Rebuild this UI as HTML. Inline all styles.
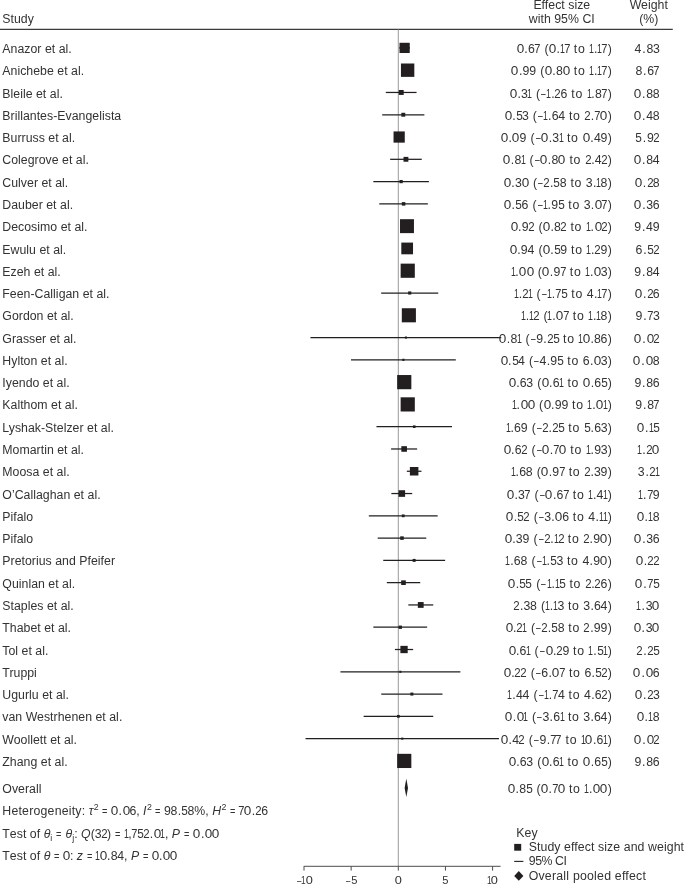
<!DOCTYPE html>
<html><head><meta charset="utf-8"><title>Forest plot</title>
<style>
html,body{margin:0;padding:0;background:#fff}
body{width:685px;height:884px;position:relative;overflow:hidden;will-change:transform;font-family:"Liberation Sans",Arial,sans-serif;color:#333}
.t{position:absolute;font-size:12.3px;line-height:16px;white-space:nowrap;letter-spacing:.03px;transform:scaleX(1.0);transform-origin:0 50%}
.n{left:2.3px}
.c{right:73.10px;text-align:right;letter-spacing:.72px;word-spacing:-.2px;font-kerning:none;transform-origin:100% 50%}
.w{right:25.5px;text-align:right;letter-spacing:.55px;font-kerning:none;transform-origin:100% 50%}
.a{width:40px;text-align:center;font-size:11.6px;letter-spacing:0;transform-origin:50% 50%;font-kerning:none}
.h{text-align:center;width:100px;transform-origin:50% 50%}
b{font-weight:normal;letter-spacing:0;display:inline-block}
.dm{transform:scaleX(.68);margin:0 -.2px}
.p{margin:0 .35px 0 .4px}
.w .p{margin:0 .9px 0 .9px}
.pl{margin:0 .2px 0 .3px}
.pr{margin:0 0 0 .5px}
.d0{margin:0 0.21px 0 0.21px;transform:scaleX(1.1)}
.d1{margin:0 -1.40px 0 -1.40px;transform:scaleX(0.72)}
.d2{margin:0 -0.55px 0 -0.55px;transform:scaleX(0.93)}
.d3{margin:0 -0.23px 0 -0.23px}
.d4{margin:0 -0.13px 0 -0.13px}
.d5{margin:0 -0.31px 0 -0.31px;transform:scaleX(0.96)}
.d6{margin:0 -0.15px 0 -0.15px}
.d7{margin:0 -0.64px 0 -0.64px;transform:scaleX(0.9)}
.d8{margin:0 -0.14px 0 -0.14px}
.d9{margin:0 -0.09px 0 -0.09px}
em{font-style:italic}
sup,sub{font-size:8.8px;line-height:0;letter-spacing:0}
sup{vertical-align:5.4px;margin-left:.4px}
sub{vertical-align:-3.2px}
.q{display:inline-block;transform:scaleX(.75);margin:0 -.5px}
.q2{margin:0 -.95px}
.q1{margin:0 -1px}
.k{font-kerning:none;letter-spacing:.04px}
svg{position:absolute;left:0;top:0}
</style></head><body>
<svg width="685" height="884" viewBox="0 0 685 884">
<line x1="0" y1="29.4" x2="672.8" y2="29.4" stroke="#3c3c3c" stroke-width="1.1"/>
<line x1="398.30" y1="29.5" x2="398.30" y2="866" stroke="#999" stroke-width="1"/>
<line x1="303.8" y1="866.3" x2="500.6" y2="866.3" stroke="#4d4d4d" stroke-width="1"/>
<line x1="304.00" y1="866.3" x2="304.00" y2="870.6" stroke="#4d4d4d" stroke-width="1"/>
<line x1="351.15" y1="866.3" x2="351.15" y2="870.6" stroke="#4d4d4d" stroke-width="1"/>
<line x1="398.30" y1="866.3" x2="398.30" y2="870.6" stroke="#4d4d4d" stroke-width="1"/>
<line x1="445.45" y1="866.3" x2="445.45" y2="870.6" stroke="#4d4d4d" stroke-width="1"/>
<line x1="492.60" y1="866.3" x2="492.60" y2="870.6" stroke="#4d4d4d" stroke-width="1"/>
<line x1="399.90" y1="47.90" x2="409.33" y2="47.90" stroke="#231f20" stroke-width="1.25" stroke-linecap="square"/>
<rect x="399.50" y="42.78" width="10.23" height="10.23" fill="#231f20"/>
<line x1="405.84" y1="70.18" x2="409.33" y2="70.18" stroke="#231f20" stroke-width="1.25" stroke-linecap="square"/>
<rect x="400.95" y="63.50" width="13.37" height="13.37" fill="#231f20"/>
<line x1="386.42" y1="92.46" x2="415.93" y2="92.46" stroke="#231f20" stroke-width="1.25" stroke-linecap="square"/>
<rect x="398.75" y="89.99" width="4.94" height="4.94" fill="#231f20"/>
<line x1="382.83" y1="114.75" x2="423.76" y2="114.75" stroke="#231f20" stroke-width="1.25" stroke-linecap="square"/>
<rect x="401.34" y="112.79" width="3.91" height="3.91" fill="#231f20"/>
<line x1="395.38" y1="137.03" x2="402.92" y2="137.03" stroke="#231f20" stroke-width="1.25" stroke-linecap="square"/>
<rect x="393.54" y="131.42" width="11.22" height="11.22" fill="#231f20"/>
<line x1="390.76" y1="159.31" x2="421.12" y2="159.31" stroke="#231f20" stroke-width="1.25" stroke-linecap="square"/>
<rect x="403.51" y="156.89" width="4.85" height="4.85" fill="#231f20"/>
<line x1="373.97" y1="181.59" x2="428.29" y2="181.59" stroke="#231f20" stroke-width="1.25" stroke-linecap="square"/>
<rect x="399.52" y="179.98" width="3.22" height="3.22" fill="#231f20"/>
<line x1="379.91" y1="203.87" x2="427.25" y2="203.87" stroke="#231f20" stroke-width="1.25" stroke-linecap="square"/>
<rect x="401.82" y="202.11" width="3.52" height="3.52" fill="#231f20"/>
<line x1="406.03" y1="226.16" x2="407.92" y2="226.16" stroke="#231f20" stroke-width="1.25" stroke-linecap="square"/>
<rect x="400.01" y="219.19" width="13.94" height="13.94" fill="#231f20"/>
<line x1="403.86" y1="248.44" x2="410.46" y2="248.44" stroke="#231f20" stroke-width="1.25" stroke-linecap="square"/>
<rect x="401.30" y="242.58" width="11.72" height="11.72" fill="#231f20"/>
<line x1="407.45" y1="270.72" x2="408.01" y2="270.72" stroke="#231f20" stroke-width="1.25" stroke-linecap="square"/>
<rect x="400.64" y="263.63" width="14.17" height="14.17" fill="#231f20"/>
<line x1="381.80" y1="293.00" x2="437.62" y2="293.00" stroke="#231f20" stroke-width="1.25" stroke-linecap="square"/>
<rect x="408.14" y="291.43" width="3.14" height="3.14" fill="#231f20"/>
<line x1="408.39" y1="315.28" x2="409.43" y2="315.28" stroke="#231f20" stroke-width="1.25" stroke-linecap="square"/>
<rect x="401.81" y="308.23" width="14.10" height="14.10" fill="#231f20"/>
<line x1="311.07" y1="337.57" x2="500.60" y2="337.57" stroke="#231f20" stroke-width="1.25" stroke-linecap="square"/>
<rect x="404.89" y="336.52" width="2.10" height="2.10" fill="#231f20"/>
<line x1="351.62" y1="359.85" x2="455.16" y2="359.85" stroke="#231f20" stroke-width="1.25" stroke-linecap="square"/>
<rect x="402.30" y="358.75" width="2.19" height="2.19" fill="#231f20"/>
<line x1="404.05" y1="382.13" x2="404.43" y2="382.13" stroke="#231f20" stroke-width="1.25" stroke-linecap="square"/>
<rect x="397.15" y="375.04" width="14.19" height="14.19" fill="#231f20"/>
<line x1="407.64" y1="404.41" x2="407.82" y2="404.41" stroke="#231f20" stroke-width="1.25" stroke-linecap="square"/>
<rect x="400.63" y="397.31" width="14.19" height="14.19" fill="#231f20"/>
<line x1="377.08" y1="426.69" x2="451.39" y2="426.69" stroke="#231f20" stroke-width="1.25" stroke-linecap="square"/>
<rect x="412.92" y="425.38" width="2.63" height="2.63" fill="#231f20"/>
<line x1="391.70" y1="448.98" x2="416.50" y2="448.98" stroke="#231f20" stroke-width="1.25" stroke-linecap="square"/>
<rect x="401.35" y="446.18" width="5.60" height="5.60" fill="#231f20"/>
<line x1="407.45" y1="471.26" x2="420.84" y2="471.26" stroke="#231f20" stroke-width="1.25" stroke-linecap="square"/>
<rect x="409.88" y="467.00" width="8.52" height="8.52" fill="#231f20"/>
<line x1="391.98" y1="493.54" x2="411.60" y2="493.54" stroke="#231f20" stroke-width="1.25" stroke-linecap="square"/>
<rect x="398.48" y="490.23" width="6.62" height="6.62" fill="#231f20"/>
<line x1="369.44" y1="515.82" x2="437.06" y2="515.82" stroke="#231f20" stroke-width="1.25" stroke-linecap="square"/>
<rect x="401.81" y="514.43" width="2.78" height="2.78" fill="#231f20"/>
<line x1="378.31" y1="538.10" x2="425.65" y2="538.10" stroke="#231f20" stroke-width="1.25" stroke-linecap="square"/>
<rect x="400.22" y="536.34" width="3.52" height="3.52" fill="#231f20"/>
<line x1="383.87" y1="560.39" x2="444.51" y2="560.39" stroke="#231f20" stroke-width="1.25" stroke-linecap="square"/>
<rect x="412.66" y="558.90" width="2.97" height="2.97" fill="#231f20"/>
<line x1="387.46" y1="582.67" x2="419.61" y2="582.67" stroke="#231f20" stroke-width="1.25" stroke-linecap="square"/>
<rect x="401.17" y="580.35" width="4.64" height="4.64" fill="#231f20"/>
<line x1="408.96" y1="604.95" x2="432.63" y2="604.95" stroke="#231f20" stroke-width="1.25" stroke-linecap="square"/>
<rect x="417.85" y="602.06" width="5.79" height="5.79" fill="#231f20"/>
<line x1="373.97" y1="627.23" x2="426.50" y2="627.23" stroke="#231f20" stroke-width="1.25" stroke-linecap="square"/>
<rect x="398.63" y="625.58" width="3.30" height="3.30" fill="#231f20"/>
<line x1="395.57" y1="649.51" x2="412.54" y2="649.51" stroke="#231f20" stroke-width="1.25" stroke-linecap="square"/>
<rect x="400.40" y="645.86" width="7.30" height="7.30" fill="#231f20"/>
<line x1="341.06" y1="671.80" x2="459.78" y2="671.80" stroke="#231f20" stroke-width="1.25" stroke-linecap="square"/>
<rect x="399.32" y="670.75" width="2.10" height="2.10" fill="#231f20"/>
<line x1="381.89" y1="694.08" x2="441.87" y2="694.08" stroke="#231f20" stroke-width="1.25" stroke-linecap="square"/>
<rect x="410.37" y="692.57" width="3.01" height="3.01" fill="#231f20"/>
<line x1="364.26" y1="716.36" x2="432.63" y2="716.36" stroke="#231f20" stroke-width="1.25" stroke-linecap="square"/>
<rect x="397.00" y="714.97" width="2.78" height="2.78" fill="#231f20"/>
<line x1="306.17" y1="738.64" x2="498.35" y2="738.64" stroke="#231f20" stroke-width="1.25" stroke-linecap="square"/>
<rect x="401.21" y="737.59" width="2.10" height="2.10" fill="#231f20"/>
<line x1="404.05" y1="760.92" x2="404.43" y2="760.92" stroke="#231f20" stroke-width="1.25" stroke-linecap="square"/>
<rect x="397.15" y="753.83" width="14.19" height="14.19" fill="#231f20"/>
<polygon points="404.60,787.9 406.32,778.8 408.03,787.9 406.32,797.0" fill="#231f20"/>
<rect x="514.2" y="843.9" width="7" height="6.8" fill="#231f20"/>
<line x1="514.2" y1="861.4" x2="523.4" y2="861.4" stroke="#231f20" stroke-width="1.1"/>
<polygon points="514.2,875.9 518.8,871 523.4,875.9 518.8,880.8" fill="#231f20"/>
</svg>
<div class="t n" style="top:10.94px">Study</div>
<div class="t h" style="left:511.8px;top:-3.06px">Effect size</div>
<div class="t h" style="left:511.8px;top:10.94px">with 95% CI</div>
<div class="t h" style="left:598.8px;top:-3.06px">Weight</div>
<div class="t h" style="left:598.8px;top:10.94px">(%)</div>
<div class="t n" style="top:40.94px">Anazor et al.</div>
<div class="t c" style="top:40.94px"><b class="d0">0</b><b class="p">.</b><b class="d6">6</b><b class="d7">7</b> <b class="pl">(</b><b class="d0">0</b><b class="p">.</b><b class="d1">1</b><b class="d7">7</b> to <b class="d1">1</b><b class="p">.</b><b class="d1">1</b><b class="d7">7</b><b class="pr">)</b></div>
<div class="t w" style="top:40.94px"><b class="d4">4</b><b class="p">.</b><b class="d8">8</b><b class="d3">3</b></div>
<div class="t n" style="top:62.94px">Anichebe et al.</div>
<div class="t c" style="top:62.94px"><b class="d0">0</b><b class="p">.</b><b class="d9">9</b><b class="d9">9</b> <b class="pl">(</b><b class="d0">0</b><b class="p">.</b><b class="d8">8</b><b class="d0">0</b> to <b class="d1">1</b><b class="p">.</b><b class="d1">1</b><b class="d7">7</b><b class="pr">)</b></div>
<div class="t w" style="top:62.94px"><b class="d8">8</b><b class="p">.</b><b class="d6">6</b><b class="d7">7</b></div>
<div class="t n" style="top:85.94px">Bleile et al.</div>
<div class="t c" style="top:85.94px"><b class="d0">0</b><b class="p">.</b><b class="d3">3</b><b class="d1">1</b> <b class="pl">(</b><b class="dm">–</b><b class="d1">1</b><b class="p">.</b><b class="d2">2</b><b class="d6">6</b> to <b class="d1">1</b><b class="p">.</b><b class="d8">8</b><b class="d7">7</b><b class="pr">)</b></div>
<div class="t w" style="top:85.94px"><b class="d0">0</b><b class="p">.</b><b class="d8">8</b><b class="d8">8</b></div>
<div class="t n" style="top:107.94px">Brillantes-Evangelista</div>
<div class="t c" style="top:107.94px"><b class="d0">0</b><b class="p">.</b><b class="d5">5</b><b class="d3">3</b> <b class="pl">(</b><b class="dm">–</b><b class="d1">1</b><b class="p">.</b><b class="d6">6</b><b class="d4">4</b> to <b class="d2">2</b><b class="p">.</b><b class="d7">7</b><b class="d0">0</b><b class="pr">)</b></div>
<div class="t w" style="top:107.94px"><b class="d0">0</b><b class="p">.</b><b class="d4">4</b><b class="d8">8</b></div>
<div class="t n" style="top:129.94px">Burruss et al.</div>
<div class="t c" style="top:129.94px"><b class="d0">0</b><b class="p">.</b><b class="d0">0</b><b class="d9">9</b> <b class="pl">(</b><b class="dm">–</b><b class="d0">0</b><b class="p">.</b><b class="d3">3</b><b class="d1">1</b> to <b class="d0">0</b><b class="p">.</b><b class="d4">4</b><b class="d9">9</b><b class="pr">)</b></div>
<div class="t w" style="top:129.94px"><b class="d5">5</b><b class="p">.</b><b class="d9">9</b><b class="d2">2</b></div>
<div class="t n" style="top:151.94px">Colegrove et al.</div>
<div class="t c" style="top:151.94px"><b class="d0">0</b><b class="p">.</b><b class="d8">8</b><b class="d1">1</b> <b class="pl">(</b><b class="dm">–</b><b class="d0">0</b><b class="p">.</b><b class="d8">8</b><b class="d0">0</b> to <b class="d2">2</b><b class="p">.</b><b class="d4">4</b><b class="d2">2</b><b class="pr">)</b></div>
<div class="t w" style="top:151.94px"><b class="d0">0</b><b class="p">.</b><b class="d8">8</b><b class="d4">4</b></div>
<div class="t n" style="top:174.94px">Culver et al.</div>
<div class="t c" style="top:174.94px"><b class="d0">0</b><b class="p">.</b><b class="d3">3</b><b class="d0">0</b> <b class="pl">(</b><b class="dm">–</b><b class="d2">2</b><b class="p">.</b><b class="d5">5</b><b class="d8">8</b> to <b class="d3">3</b><b class="p">.</b><b class="d1">1</b><b class="d8">8</b><b class="pr">)</b></div>
<div class="t w" style="top:174.94px"><b class="d0">0</b><b class="p">.</b><b class="d2">2</b><b class="d8">8</b></div>
<div class="t n" style="top:196.94px">Dauber et al.</div>
<div class="t c" style="top:196.94px"><b class="d0">0</b><b class="p">.</b><b class="d5">5</b><b class="d6">6</b> <b class="pl">(</b><b class="dm">–</b><b class="d1">1</b><b class="p">.</b><b class="d9">9</b><b class="d5">5</b> to <b class="d3">3</b><b class="p">.</b><b class="d0">0</b><b class="d7">7</b><b class="pr">)</b></div>
<div class="t w" style="top:196.94px"><b class="d0">0</b><b class="p">.</b><b class="d3">3</b><b class="d6">6</b></div>
<div class="t n" style="top:218.94px">Decosimo et al.</div>
<div class="t c" style="top:218.94px"><b class="d0">0</b><b class="p">.</b><b class="d9">9</b><b class="d2">2</b> <b class="pl">(</b><b class="d0">0</b><b class="p">.</b><b class="d8">8</b><b class="d2">2</b> to <b class="d1">1</b><b class="p">.</b><b class="d0">0</b><b class="d2">2</b><b class="pr">)</b></div>
<div class="t w" style="top:218.94px"><b class="d9">9</b><b class="p">.</b><b class="d4">4</b><b class="d9">9</b></div>
<div class="t n" style="top:241.94px">Ewulu et al.</div>
<div class="t c" style="top:241.94px"><b class="d0">0</b><b class="p">.</b><b class="d9">9</b><b class="d4">4</b> <b class="pl">(</b><b class="d0">0</b><b class="p">.</b><b class="d5">5</b><b class="d9">9</b> to <b class="d1">1</b><b class="p">.</b><b class="d2">2</b><b class="d9">9</b><b class="pr">)</b></div>
<div class="t w" style="top:241.94px"><b class="d6">6</b><b class="p">.</b><b class="d5">5</b><b class="d2">2</b></div>
<div class="t n" style="top:263.94px">Ezeh et al.</div>
<div class="t c" style="top:263.94px"><b class="d1">1</b><b class="p">.</b><b class="d0">0</b><b class="d0">0</b> <b class="pl">(</b><b class="d0">0</b><b class="p">.</b><b class="d9">9</b><b class="d7">7</b> to <b class="d1">1</b><b class="p">.</b><b class="d0">0</b><b class="d3">3</b><b class="pr">)</b></div>
<div class="t w" style="top:263.94px"><b class="d9">9</b><b class="p">.</b><b class="d8">8</b><b class="d4">4</b></div>
<div class="t n" style="top:285.94px">Feen-Calligan et al.</div>
<div class="t c" style="top:285.94px"><b class="d1">1</b><b class="p">.</b><b class="d2">2</b><b class="d1">1</b> <b class="pl">(</b><b class="dm">–</b><b class="d1">1</b><b class="p">.</b><b class="d7">7</b><b class="d5">5</b> to <b class="d4">4</b><b class="p">.</b><b class="d1">1</b><b class="d7">7</b><b class="pr">)</b></div>
<div class="t w" style="top:285.94px"><b class="d0">0</b><b class="p">.</b><b class="d2">2</b><b class="d6">6</b></div>
<div class="t n" style="top:307.94px">Gordon et al.</div>
<div class="t c" style="top:307.94px"><b class="d1">1</b><b class="p">.</b><b class="d1">1</b><b class="d2">2</b> <b class="pl">(</b><b class="d1">1</b><b class="p">.</b><b class="d0">0</b><b class="d7">7</b> to <b class="d1">1</b><b class="p">.</b><b class="d1">1</b><b class="d8">8</b><b class="pr">)</b></div>
<div class="t w" style="top:307.94px"><b class="d9">9</b><b class="p">.</b><b class="d7">7</b><b class="d3">3</b></div>
<div class="t n" style="top:330.94px">Grasser et al.</div>
<div class="t c" style="top:330.94px"><b class="d0">0</b><b class="p">.</b><b class="d8">8</b><b class="d1">1</b> <b class="pl">(</b><b class="dm">–</b><b class="d9">9</b><b class="p">.</b><b class="d2">2</b><b class="d5">5</b> to <b class="d1">1</b><b class="d0">0</b><b class="p">.</b><b class="d8">8</b><b class="d6">6</b><b class="pr">)</b></div>
<div class="t w" style="top:330.94px"><b class="d0">0</b><b class="p">.</b><b class="d0">0</b><b class="d2">2</b></div>
<div class="t n" style="top:352.94px">Hylton et al.</div>
<div class="t c" style="top:352.94px"><b class="d0">0</b><b class="p">.</b><b class="d5">5</b><b class="d4">4</b> <b class="pl">(</b><b class="dm">–</b><b class="d4">4</b><b class="p">.</b><b class="d9">9</b><b class="d5">5</b> to <b class="d6">6</b><b class="p">.</b><b class="d0">0</b><b class="d3">3</b><b class="pr">)</b></div>
<div class="t w" style="top:352.94px"><b class="d0">0</b><b class="p">.</b><b class="d0">0</b><b class="d8">8</b></div>
<div class="t n" style="top:374.94px">Iyendo et al.</div>
<div class="t c" style="top:374.94px"><b class="d0">0</b><b class="p">.</b><b class="d6">6</b><b class="d3">3</b> <b class="pl">(</b><b class="d0">0</b><b class="p">.</b><b class="d6">6</b><b class="d1">1</b> to <b class="d0">0</b><b class="p">.</b><b class="d6">6</b><b class="d5">5</b><b class="pr">)</b></div>
<div class="t w" style="top:374.94px"><b class="d9">9</b><b class="p">.</b><b class="d8">8</b><b class="d6">6</b></div>
<div class="t n" style="top:396.94px">Kalthom et al.</div>
<div class="t c" style="top:396.94px"><b class="d1">1</b><b class="p">.</b><b class="d0">0</b><b class="d0">0</b> <b class="pl">(</b><b class="d0">0</b><b class="p">.</b><b class="d9">9</b><b class="d9">9</b> to <b class="d1">1</b><b class="p">.</b><b class="d0">0</b><b class="d1">1</b><b class="pr">)</b></div>
<div class="t w" style="top:396.94px"><b class="d9">9</b><b class="p">.</b><b class="d8">8</b><b class="d7">7</b></div>
<div class="t n" style="top:419.94px">Lyshak-Stelzer et al.</div>
<div class="t c" style="top:419.94px"><b class="d1">1</b><b class="p">.</b><b class="d6">6</b><b class="d9">9</b> <b class="pl">(</b><b class="dm">–</b><b class="d2">2</b><b class="p">.</b><b class="d2">2</b><b class="d5">5</b> to <b class="d5">5</b><b class="p">.</b><b class="d6">6</b><b class="d3">3</b><b class="pr">)</b></div>
<div class="t w" style="top:419.94px"><b class="d0">0</b><b class="p">.</b><b class="d1">1</b><b class="d5">5</b></div>
<div class="t n" style="top:441.94px">Momartin et al.</div>
<div class="t c" style="top:441.94px"><b class="d0">0</b><b class="p">.</b><b class="d6">6</b><b class="d2">2</b> <b class="pl">(</b><b class="dm">–</b><b class="d0">0</b><b class="p">.</b><b class="d7">7</b><b class="d0">0</b> to <b class="d1">1</b><b class="p">.</b><b class="d9">9</b><b class="d3">3</b><b class="pr">)</b></div>
<div class="t w" style="top:441.94px"><b class="d1">1</b><b class="p">.</b><b class="d2">2</b><b class="d0">0</b></div>
<div class="t n" style="top:463.94px">Moosa et al.</div>
<div class="t c" style="top:463.94px"><b class="d1">1</b><b class="p">.</b><b class="d6">6</b><b class="d8">8</b> <b class="pl">(</b><b class="d0">0</b><b class="p">.</b><b class="d9">9</b><b class="d7">7</b> to <b class="d2">2</b><b class="p">.</b><b class="d3">3</b><b class="d9">9</b><b class="pr">)</b></div>
<div class="t w" style="top:463.94px"><b class="d3">3</b><b class="p">.</b><b class="d2">2</b><b class="d1">1</b></div>
<div class="t n" style="top:486.94px">O’Callaghan et al.</div>
<div class="t c" style="top:486.94px"><b class="d0">0</b><b class="p">.</b><b class="d3">3</b><b class="d7">7</b> <b class="pl">(</b><b class="dm">–</b><b class="d0">0</b><b class="p">.</b><b class="d6">6</b><b class="d7">7</b> to <b class="d1">1</b><b class="p">.</b><b class="d4">4</b><b class="d1">1</b><b class="pr">)</b></div>
<div class="t w" style="top:486.94px"><b class="d1">1</b><b class="p">.</b><b class="d7">7</b><b class="d9">9</b></div>
<div class="t n" style="top:508.94px">Pifalo</div>
<div class="t c" style="top:508.94px"><b class="d0">0</b><b class="p">.</b><b class="d5">5</b><b class="d2">2</b> <b class="pl">(</b><b class="dm">–</b><b class="d3">3</b><b class="p">.</b><b class="d0">0</b><b class="d6">6</b> to <b class="d4">4</b><b class="p">.</b><b class="d1">1</b><b class="d1">1</b><b class="pr">)</b></div>
<div class="t w" style="top:508.94px"><b class="d0">0</b><b class="p">.</b><b class="d1">1</b><b class="d8">8</b></div>
<div class="t n" style="top:530.94px">Pifalo</div>
<div class="t c" style="top:530.94px"><b class="d0">0</b><b class="p">.</b><b class="d3">3</b><b class="d9">9</b> <b class="pl">(</b><b class="dm">–</b><b class="d2">2</b><b class="p">.</b><b class="d1">1</b><b class="d2">2</b> to <b class="d2">2</b><b class="p">.</b><b class="d9">9</b><b class="d0">0</b><b class="pr">)</b></div>
<div class="t w" style="top:530.94px"><b class="d0">0</b><b class="p">.</b><b class="d3">3</b><b class="d6">6</b></div>
<div class="t n" style="top:552.94px">Pretorius and Pfeifer</div>
<div class="t c" style="top:552.94px"><b class="d1">1</b><b class="p">.</b><b class="d6">6</b><b class="d8">8</b> <b class="pl">(</b><b class="dm">–</b><b class="d1">1</b><b class="p">.</b><b class="d5">5</b><b class="d3">3</b> to <b class="d4">4</b><b class="p">.</b><b class="d9">9</b><b class="d0">0</b><b class="pr">)</b></div>
<div class="t w" style="top:552.94px"><b class="d0">0</b><b class="p">.</b><b class="d2">2</b><b class="d2">2</b></div>
<div class="t n" style="top:575.94px">Quinlan et al.</div>
<div class="t c" style="top:575.94px"><b class="d0">0</b><b class="p">.</b><b class="d5">5</b><b class="d5">5</b> <b class="pl">(</b><b class="dm">–</b><b class="d1">1</b><b class="p">.</b><b class="d1">1</b><b class="d5">5</b> to <b class="d2">2</b><b class="p">.</b><b class="d2">2</b><b class="d6">6</b><b class="pr">)</b></div>
<div class="t w" style="top:575.94px"><b class="d0">0</b><b class="p">.</b><b class="d7">7</b><b class="d5">5</b></div>
<div class="t n" style="top:597.94px">Staples et al.</div>
<div class="t c" style="top:597.94px"><b class="d2">2</b><b class="p">.</b><b class="d3">3</b><b class="d8">8</b> <b class="pl">(</b><b class="d1">1</b><b class="p">.</b><b class="d1">1</b><b class="d3">3</b> to <b class="d3">3</b><b class="p">.</b><b class="d6">6</b><b class="d4">4</b><b class="pr">)</b></div>
<div class="t w" style="top:597.94px"><b class="d1">1</b><b class="p">.</b><b class="d3">3</b><b class="d0">0</b></div>
<div class="t n" style="top:619.94px">Thabet et al.</div>
<div class="t c" style="top:619.94px"><b class="d0">0</b><b class="p">.</b><b class="d2">2</b><b class="d1">1</b> <b class="pl">(</b><b class="dm">–</b><b class="d2">2</b><b class="p">.</b><b class="d5">5</b><b class="d8">8</b> to <b class="d2">2</b><b class="p">.</b><b class="d9">9</b><b class="d9">9</b><b class="pr">)</b></div>
<div class="t w" style="top:619.94px"><b class="d0">0</b><b class="p">.</b><b class="d3">3</b><b class="d0">0</b></div>
<div class="t n" style="top:642.94px">Tol et al.</div>
<div class="t c" style="top:642.94px"><b class="d0">0</b><b class="p">.</b><b class="d6">6</b><b class="d1">1</b> <b class="pl">(</b><b class="dm">–</b><b class="d0">0</b><b class="p">.</b><b class="d2">2</b><b class="d9">9</b> to <b class="d1">1</b><b class="p">.</b><b class="d5">5</b><b class="d1">1</b><b class="pr">)</b></div>
<div class="t w" style="top:642.94px"><b class="d2">2</b><b class="p">.</b><b class="d2">2</b><b class="d5">5</b></div>
<div class="t n" style="top:664.94px">Truppi</div>
<div class="t c" style="top:664.94px"><b class="d0">0</b><b class="p">.</b><b class="d2">2</b><b class="d2">2</b> <b class="pl">(</b><b class="dm">–</b><b class="d6">6</b><b class="p">.</b><b class="d0">0</b><b class="d7">7</b> to <b class="d6">6</b><b class="p">.</b><b class="d5">5</b><b class="d2">2</b><b class="pr">)</b></div>
<div class="t w" style="top:664.94px"><b class="d0">0</b><b class="p">.</b><b class="d0">0</b><b class="d6">6</b></div>
<div class="t n" style="top:686.94px">Ugurlu et al.</div>
<div class="t c" style="top:686.94px"><b class="d1">1</b><b class="p">.</b><b class="d4">4</b><b class="d4">4</b> <b class="pl">(</b><b class="dm">–</b><b class="d1">1</b><b class="p">.</b><b class="d7">7</b><b class="d4">4</b> to <b class="d4">4</b><b class="p">.</b><b class="d6">6</b><b class="d2">2</b><b class="pr">)</b></div>
<div class="t w" style="top:686.94px"><b class="d0">0</b><b class="p">.</b><b class="d2">2</b><b class="d3">3</b></div>
<div class="t n" style="top:708.94px">van Westrhenen et al.</div>
<div class="t c" style="top:708.94px"><b class="d0">0</b><b class="p">.</b><b class="d0">0</b><b class="d1">1</b> <b class="pl">(</b><b class="dm">–</b><b class="d3">3</b><b class="p">.</b><b class="d6">6</b><b class="d1">1</b> to <b class="d3">3</b><b class="p">.</b><b class="d6">6</b><b class="d4">4</b><b class="pr">)</b></div>
<div class="t w" style="top:708.94px"><b class="d0">0</b><b class="p">.</b><b class="d1">1</b><b class="d8">8</b></div>
<div class="t n" style="top:731.94px">Woollett et al.</div>
<div class="t c" style="top:731.94px"><b class="d0">0</b><b class="p">.</b><b class="d4">4</b><b class="d2">2</b> <b class="pl">(</b><b class="dm">–</b><b class="d9">9</b><b class="p">.</b><b class="d7">7</b><b class="d7">7</b> to <b class="d1">1</b><b class="d0">0</b><b class="p">.</b><b class="d6">6</b><b class="d1">1</b><b class="pr">)</b></div>
<div class="t w" style="top:731.94px"><b class="d0">0</b><b class="p">.</b><b class="d0">0</b><b class="d2">2</b></div>
<div class="t n" style="top:753.94px">Zhang et al.</div>
<div class="t c" style="top:753.94px"><b class="d0">0</b><b class="p">.</b><b class="d6">6</b><b class="d3">3</b> <b class="pl">(</b><b class="d0">0</b><b class="p">.</b><b class="d6">6</b><b class="d1">1</b> to <b class="d0">0</b><b class="p">.</b><b class="d6">6</b><b class="d5">5</b><b class="pr">)</b></div>
<div class="t w" style="top:753.94px"><b class="d9">9</b><b class="p">.</b><b class="d8">8</b><b class="d6">6</b></div>
<div class="t a" style="left:284.00px;top:872.18px"><b class="dm">–</b><b class="d1">1</b><b class="d0">0</b></div>
<div class="t a" style="left:331.15px;top:872.18px"><b class="dm">–</b><b class="d5">5</b></div>
<div class="t a" style="left:378.30px;top:872.18px"><b class="d0">0</b></div>
<div class="t a" style="left:425.45px;top:872.18px"><b class="d5">5</b></div>
<div class="t a" style="left:472.60px;top:872.18px"><b class="d1">1</b><b class="d0">0</b></div>
<div class="t n" style="top:780.94px">Overall</div>
<div class="t c" style="top:780.94px"><b class="d0">0</b><b class="p">.</b><b class="d8">8</b><b class="d5">5</b> <b class="pl">(</b><b class="d0">0</b><b class="p">.</b><b class="d7">7</b><b class="d0">0</b> to <b class="d1">1</b><b class="p">.</b><b class="d0">0</b><b class="d0">0</b><b class="pr">)</b></div>
<div class="t n k" style="top:802.94px"><span style="letter-spacing:.22px">Heterogeneity:</span> <em>τ</em><sup>2</sup> <span class="q q1">=</span> <b class="d0">0</b><b class="p">.</b><b class="d0">0</b><b class="d6">6</b>, <em>I</em><sup>2</sup> <span class="q q1">=</span> <b class="d9">9</b><b class="d8">8</b><b class="p">.</b><b class="d5">5</b><b class="d8">8</b>%, <em>H</em><sup>2</sup> <span class="q q1">=</span> <b class="d7">7</b><b class="d0">0</b><b class="p">.</b><b class="d2">2</b><b class="d6">6</b></div>
<div class="t n k" style="top:825.94px">Test of <em>θ</em><sub>i</sub> <span class="q">=</span> <em>θ</em><sub>j</sub>: <em>Q</em>(<b class="d3">3</b><b class="d2">2</b>) <span class="q">=</span> <b class="d1">1</b>,<b class="d7">7</b><b class="d5">5</b><b class="d2">2</b><b class="p">.</b><b class="d0">0</b><b class="d1">1</b>, <em>P</em> <span class="q">=</span> <b class="d0">0</b><b class="p">.</b><b class="d0">0</b><b class="d0">0</b></div>
<div class="t n k" style="top:847.94px">Test of <em>θ</em> <span class="q q2">=</span> <b class="d0">0</b>: <em>z</em> <span class="q q2">=</span> <b class="d1">1</b><b class="d0">0</b><b class="p">.</b><b class="d8">8</b><b class="d4">4</b>, <em>P</em> <span class="q q2">=</span> <b class="d0">0</b><b class="p">.</b><b class="d0">0</b><b class="d0">0</b></div>
<div class="t" style="left:516.3px;top:824.94px">Key</div>
<div class="t" style="letter-spacing:.09px;left:528.7px;top:838.94px">Study effect size and weight</div>
<div class="t" style="letter-spacing:-.4px;left:528.7px;top:852.94px">95% CI</div>
<div class="t" style="letter-spacing:.23px;left:528.7px;top:867.94px">Overall pooled effect</div>
</body></html>
